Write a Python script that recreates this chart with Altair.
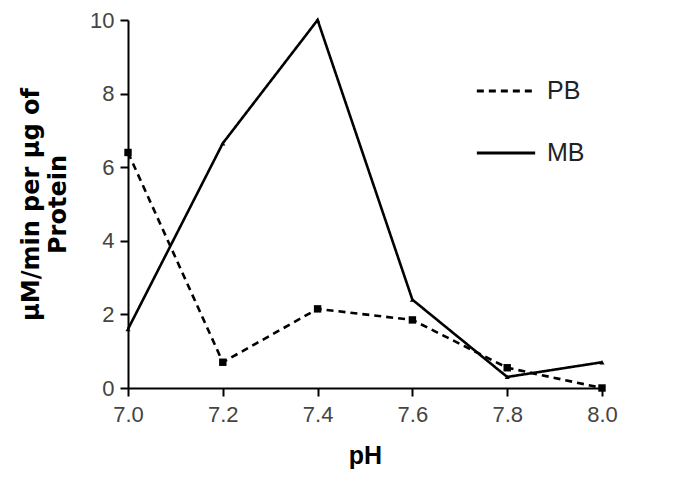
import altair as alt
import pandas as pd

ph = [7.0, 7.2, 7.4, 7.6, 7.8, 8.0]
pb = [6.4, 0.7, 2.15, 1.85, 0.55, 0.0]
mb = [1.6, 6.65, 10.0, 2.4, 0.3, 0.7]
series = ["PB", "MB"]

df = pd.DataFrame(
    {"pH": ph * 2, "value": pb + mb, "series": ["PB"] * len(ph) + ["MB"] * len(ph)}
)

font = "Liberation Sans"

x = alt.X(
    "pH:Q",
    scale=alt.Scale(domain=[7.0, 8.0], nice=False, zero=False),
    axis=alt.Axis(
        title="pH",
        values=ph,
        format=".1f",
        grid=False,
        labelFlush=False,
        domainColor="black",
        domainWidth=2,
        tickColor="black",
        tickWidth=2,
        tickSize=8,
        labelColor="#444444",
        labelFontSize=22,
        labelFont=font,
        labelPadding=8,
        titleFont=font,
        titleFontSize=25,
        titleFontWeight="bold",
        titleColor="black",
        titlePadding=18,
    ),
)
y = alt.Y(
    "value:Q",
    scale=alt.Scale(domain=[0, 10], nice=False),
    axis=alt.Axis(
        title=["µM/min per µg of", "Protein"],
        values=[0, 2, 4, 6, 8, 10],
        grid=False,
        domainColor="black",
        domainWidth=2,
        tickColor="black",
        tickWidth=2,
        tickSize=8,
        labelColor="#444444",
        labelFontSize=22,
        labelFont=font,
        labelPadding=6,
        titleFont="DejaVu Sans",
        titleFontSize=24,
        titleFontWeight="bold",
        titleColor="black",
        titlePadding=19,
        titleLineHeight=27,
    ),
)

dash = alt.StrokeDash(
    "series:N",
    scale=alt.Scale(domain=series, range=[[7, 5], [1, 0]]),
    legend=alt.Legend(
        title=None,
        orient="none",
        legendX=347,
        legendY=40,
        symbolType="stroke",
        symbolSize=3400,
        symbolStrokeWidth=3,
        symbolStrokeColor="black",
        labelFontSize=25,
        labelFont=font,
        labelColor="#222222",
        rowPadding=18,
        labelOffset=10,
    ),
)

base = alt.Chart(df)

lines = base.mark_line(color="black", strokeWidth=2.6).encode(
    x=x, y=y, strokeDash=dash
)

pb_points = (
    base.transform_filter(alt.datum.series == "PB")
    .mark_point(shape="square", filled=True, color="black", opacity=1, size=55)
    .encode(x=x, y=y)
)
mb_points = (
    base.transform_filter(alt.datum.series == "MB")
    .mark_point(shape="triangle-up", filled=True, color="black", opacity=1, size=25)
    .encode(x=x, y=y)
)

chart = (
    alt.layer(lines, pb_points, mb_points)
    .properties(
        width=474,
        height=368,
        autosize=alt.AutoSizeParams(type="none"),
        padding={"left": 120, "top": 12, "right": 80, "bottom": 90},
    )
    .configure_view(stroke=None)
)

chart.save("out.html", embed_options={"renderer": "svg", "actions": False})
